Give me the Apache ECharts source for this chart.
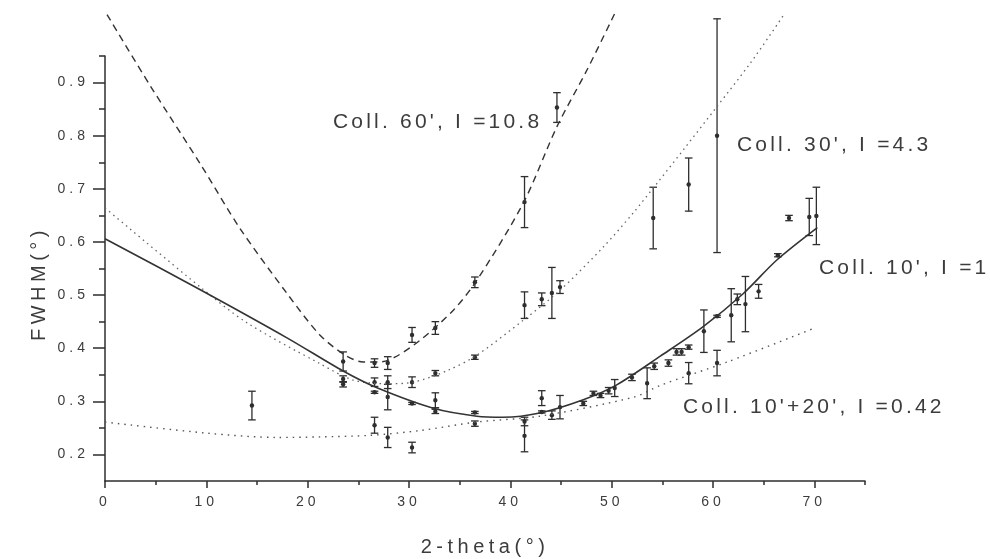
<!DOCTYPE html>
<html><head><meta charset="utf-8">
<script src="https://cdn.jsdelivr.net/npm/echarts@6/dist/echarts.min.js"></script>
<style>html,body{margin:0;padding:0;background:#fff}#c{width:990px;height:559px}</style>
</head><body><div id="c"></div>
<script>
// ---------- tick labels ----------
const xMajorTicks = [0, 10, 20, 30, 40, 50, 60, 70];
const xMinorTicks = [5, 15, 25, 35, 45, 55, 65, 75];
const yMajorTicks = [0.2, 0.3, 0.4, 0.5, 0.6, 0.7, 0.8, 0.9];
const yMinorTicks = [0.25, 0.35, 0.45, 0.55, 0.65, 0.75, 0.85, 0.95];

// ---------- fitted curves ----------
const curve60X = [0.2, 4.4, 9.4, 13.3, 18.0, 21.2, 23.7, 25.5, 27.1, 28.6, 31.1, 34.4, 36.7, 41.3, 44.6, 47.6, 50.3];
const curve60Y = [1.028, 0.896, 0.747, 0.626, 0.502, 0.425, 0.387, 0.374, 0.374, 0.383, 0.415, 0.472, 0.528, 0.674, 0.817, 0.925, 1.03];
const curve30X = [0, 9.4, 14.0, 21.2, 24.5, 27.8, 30.4, 33.8, 36.7, 41.3, 44.9, 49.2, 52.1, 54.5, 57.1, 60.4, 63.7, 66.9];
const curve30Y = [0.664, 0.515, 0.448, 0.371, 0.340, 0.333, 0.336, 0.358, 0.387, 0.453, 0.509, 0.591, 0.654, 0.711, 0.774, 0.855, 0.937, 1.025];
const curve10X = [0, 9.4, 18.0, 23.5, 26.9, 32.4, 36.7, 39.3, 42.9, 47.2, 50.5, 54.8, 59.0, 63.0, 66.3, 70.3];
const curve10Y = [0.606, 0.51, 0.419, 0.357, 0.325, 0.287, 0.272, 0.27, 0.278, 0.303, 0.331, 0.385, 0.44, 0.503, 0.566, 0.627];
const curve1020X = [0, 10.1, 17.0, 21.2, 26.2, 31.1, 36.7, 42.9, 52.2, 54.8, 61.4, 69.9];
const curve1020Y = [0.261, 0.24, 0.232, 0.233, 0.236, 0.245, 0.261, 0.272, 0.308, 0.330, 0.374, 0.437];

// ---------- measured points with error bars ----------
const pts60X = [23.5, 26.6, 27.9, 30.3, 32.6, 36.5, 41.4, 44.6];
const pts60Y = [0.375, 0.372, 0.372, 0.425, 0.438, 0.524, 0.675, 0.853];
const pts60E = [0.018, 0.008, 0.012, 0.014, 0.012, 0.01, 0.048, 0.028];

const pts30X = [23.5, 26.6, 27.9, 30.3, 32.6, 36.5, 41.4, 43.1, 44.1, 44.9, 54.1, 57.6, 60.4];
const pts30Y = [0.342, 0.336, 0.336, 0.336, 0.353, 0.383, 0.481, 0.492, 0.504, 0.515, 0.645, 0.708, 0.80];
const pts30E = [0.006, 0.008, 0.012, 0.01, 0.005, 0.004, 0.025, 0.012, 0.048, 0.012, 0.058, 0.05, 0.22];

const pts10X = [23.5, 26.6, 27.9, 30.3, 32.6, 36.5, 41.4, 43.1, 44.1, 44.9, 47.2, 48.2, 48.9, 49.7, 50.3, 52.0, 54.2, 55.6, 56.4, 56.9, 57.6, 59.1, 60.4, 61.8, 62.4, 63.2, 64.5, 66.4, 67.5, 69.5, 70.2];
const pts10Y = [0.332, 0.317, 0.308, 0.296, 0.281, 0.279, 0.262, 0.28, 0.274, 0.289, 0.296, 0.315, 0.311, 0.32, 0.325, 0.345, 0.366, 0.372, 0.393, 0.393, 0.402, 0.432, 0.46, 0.462, 0.492, 0.483, 0.507, 0.575, 0.645, 0.647, 0.649];
const pts10E = [0.005, 0.002, 0.024, 0.002, 0.004, 0.002, 0.008, 0.002, 0.008, 0.022, 0.004, 0.004, 0.004, 0.006, 0.016, 0.006, 0.006, 0.006, 0.006, 0.006, 0.004, 0.04, 0.002, 0.05, 0.01, 0.052, 0.013, 0.003, 0.005, 0.035, 0.054];

const pts1020X = [14.5, 26.6, 27.9, 30.3, 32.6, 36.5, 41.4, 43.1, 53.5, 57.6, 60.4];
const pts1020Y = [0.292, 0.255, 0.232, 0.213, 0.302, 0.258, 0.235, 0.306, 0.334, 0.353, 0.372];
const pts1020E = [0.027, 0.015, 0.019, 0.01, 0.014, 0.005, 0.03, 0.014, 0.029, 0.02, 0.024];

// ---------- annotations ----------
const annoTexts = ["Coll. 60', I =10.8", "Coll. 30', I =4.3", "Coll. 10', I =1", "Coll. 10'+20', I =0.42"];

// wide tracking like the original typesetting
(function () {
  const proto = CanvasRenderingContext2D.prototype;
  const orig = proto.fillText;
  const spacing = { 14: 4, 20: 4.5, 21: 3.2 };
  proto.fillText = function (t, x, y, w) {
    const m = /(\d+(?:\.\d+)?)px/.exec(this.font || '');
    const s = m ? spacing[Math.round(parseFloat(m[1]))] : 0;
    const prev = this.letterSpacing;
    if (s) this.letterSpacing = s + 'px';
    if (w === undefined) orig.call(this, t, x, y); else orig.call(this, t, x, y, w);
    if (s) this.letterSpacing = prev;
  };
})();

const FONT = 'Liberation Sans';
const INK = '#2e2e2e';
const TXT = '#3c3c3c';

function zip(xs, ys) { return xs.map((x, i) => [x, ys[i]]); }
function errData(xs, ys, es) { return xs.map((x, i) => [x, ys[i], ys[i] - es[i], ys[i] + es[i]]); }

function renderErr(params, api) {
  const x = api.value(0), y = api.value(1), lo = api.value(2), hi = api.value(3);
  const p = api.coord([x, y]);
  const pl = api.coord([x, lo]);
  const ph = api.coord([x, hi]);
  const cw = 3.8;
  const st = { stroke: INK, lineWidth: 1.3 };
  return {
    type: 'group',
    children: [
      { type: 'line', shape: { x1: p[0], y1: pl[1], x2: p[0], y2: ph[1] }, style: st },
      { type: 'line', shape: { x1: p[0] - cw, y1: pl[1], x2: p[0] + cw, y2: pl[1] }, style: st },
      { type: 'line', shape: { x1: p[0] - cw, y1: ph[1], x2: p[0] + cw, y2: ph[1] }, style: st },
      { type: 'circle', shape: { cx: p[0], cy: p[1], r: 2.2 }, style: { fill: INK } }
    ]
  };
}

function curve(name, xs, ys, type, width, color) {
  return {
    name, type: 'line', data: zip(xs, ys), smooth: 0.3, symbol: 'none', clip: false,
    lineStyle: { color, width, type }, silent: true
  };
}
function errSeries(name, xs, ys, es) {
  return { name, type: 'custom', renderItem: renderErr, data: errData(xs, ys, es), clip: false, silent: true };
}

const axisLineStyle = { color: INK, width: 1.5 };
const labelStyle = { color: TXT, fontSize: 14, fontFamily: FONT };

const chart = echarts.init(document.getElementById('c'), null, { renderer: 'canvas' });
chart.setOption({
  animation: false,
  backgroundColor: '#fff',
  grid: { left: 105, right: 125, top: 56, bottom: 78, containLabel: false, outerBoundsMode: 'none' },
  xAxis: [{
    type: 'value', min: 0, max: 75,
    axisLine: { show: true, lineStyle: axisLineStyle },
    axisTick: { show: true, length: 7, customValues: xMajorTicks, lineStyle: axisLineStyle },
    axisLabel: { customValues: xMajorTicks, margin: 14, ...labelStyle },
    splitLine: { show: false },
    name: '2-theta(°)', nameLocation: 'middle', nameGap: 56,
    nameTextStyle: { color: TXT, fontSize: 20, fontFamily: FONT }
  }, {
    type: 'value', min: 0, max: 75, position: 'bottom',
    axisLine: { show: false },
    axisTick: { show: true, length: 4, customValues: xMinorTicks, lineStyle: axisLineStyle },
    axisLabel: { show: false }, splitLine: { show: false }
  }],
  yAxis: [{
    type: 'value', min: 0.15, max: 0.95,
    axisLine: { show: true, lineStyle: axisLineStyle },
    axisTick: { show: true, length: 12, customValues: yMajorTicks, lineStyle: axisLineStyle },
    axisLabel: { customValues: yMajorTicks, formatter: v => v.toFixed(1), margin: 16, ...labelStyle },
    splitLine: { show: false },
    name: 'FWHM(°)', nameLocation: 'middle', nameGap: 56, nameRotate: 90,
    nameTextStyle: { color: TXT, fontSize: 20, fontFamily: FONT, padding: [0, 30, 0, 0] }
  }, {
    type: 'value', min: 0.15, max: 0.95, position: 'left',
    axisLine: { show: false },
    axisTick: { show: true, length: 6, customValues: yMinorTicks, lineStyle: axisLineStyle },
    axisLabel: { show: false }, splitLine: { show: false }
  }],
  series: [
    curve('Coll. 60\'', curve60X, curve60Y, [7, 5], 1.4, '#333'),
    curve('Coll. 30\'', curve30X, curve30Y, [1.5, 4], 1.3, '#666'),
    curve('Coll. 10\'', curve10X, curve10Y, 'solid', 1.6, '#333'),
    curve('Coll. 10\'+20\'', curve1020X, curve1020Y, [1.5, 5], 1.4, '#555'),
    errSeries('pts 60', pts60X, pts60Y, pts60E),
    errSeries('pts 30', pts30X, pts30Y, pts30E),
    errSeries('pts 10', pts10X, pts10Y, pts10E),
    errSeries('pts 10+20', pts1020X, pts1020Y, pts1020E)
  ],
  graphic: [
    { type: 'text', left: 333, top: 112, style: { text: annoTexts[0], fill: TXT, font: '21px "Liberation Sans"' } },
    { type: 'text', left: 737, top: 135, style: { text: annoTexts[1], fill: TXT, font: '21px "Liberation Sans"' } },
    { type: 'text', left: 819, top: 258, style: { text: annoTexts[2], fill: TXT, font: '21px "Liberation Sans"' } },
    { type: 'text', left: 683, top: 397, style: { text: annoTexts[3], fill: TXT, font: '21px "Liberation Sans"' } }
  ]
});
</script>
</body></html>
